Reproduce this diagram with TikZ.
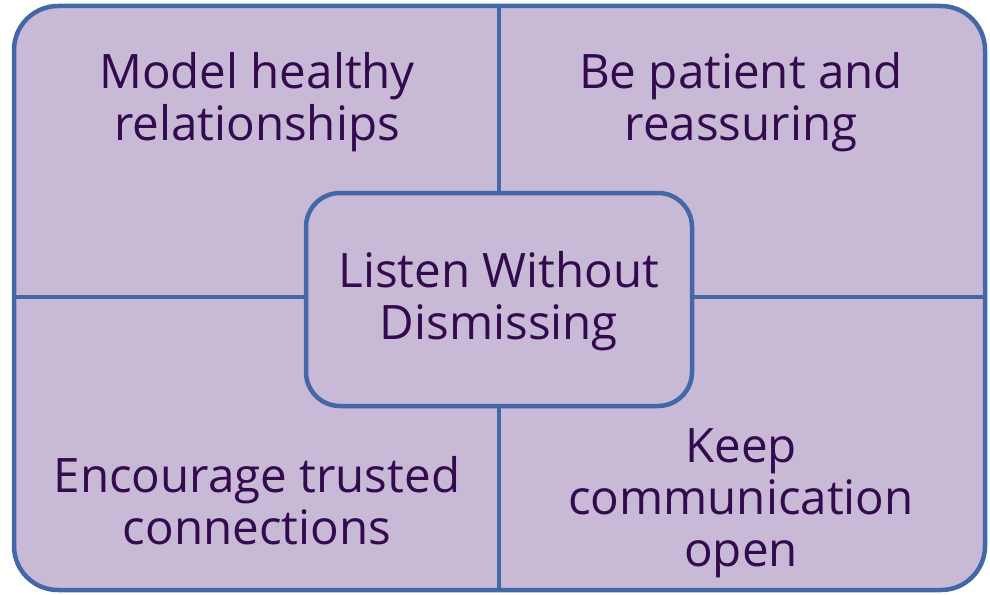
\documentclass[tikz,border=0pt]{standalone}
\usepackage{fontspec}
\setmainfont{Open Sans}
\usetikzlibrary{positioning}
\definecolor{boxfill}{HTML}{C8BAD6}
\definecolor{boxline}{HTML}{4368A8}
\definecolor{ink}{HTML}{330A4D}
\tikzset{
  frame/.style={draw=boxline, line width=4.5pt, fill=boxfill, rounded corners=44pt},
  tip/.style={text=ink, align=center, font=\fontsize{47.5}{52}\selectfont},
}
\begin{document}
\begin{tikzpicture}[x=1pt,y=-1pt]
\useasboundingbox (0,0) rectangle (990,594);

\draw[frame] (14,6) rectangle (985,590);

\coordinate (top) at (499,6);
\coordinate (bot) at (499,590);
\coordinate (lft) at (14,297);
\coordinate (rgt) at (985,297);

\draw[boxline, line width=4pt] (top)--(bot);
\draw[boxline, line width=4pt] (lft)--(rgt);

\draw[frame, rounded corners=34pt] (306,193) rectangle (692,406);

\node[tip] (model) at (257,102) {Model healthy\\relationships};
\node[tip] (patient) at (741,102) {Be patient and\\reassuring};
\node[tip] (listen) at (499,301) {Listen Without\\Dismissing};
\node[tip] (trust) at (257,501) {Encourage trusted\\connections};
\node[tip] (keep) at (741,503) {Keep\\communication\\open};

\end{tikzpicture}
\end{document}
